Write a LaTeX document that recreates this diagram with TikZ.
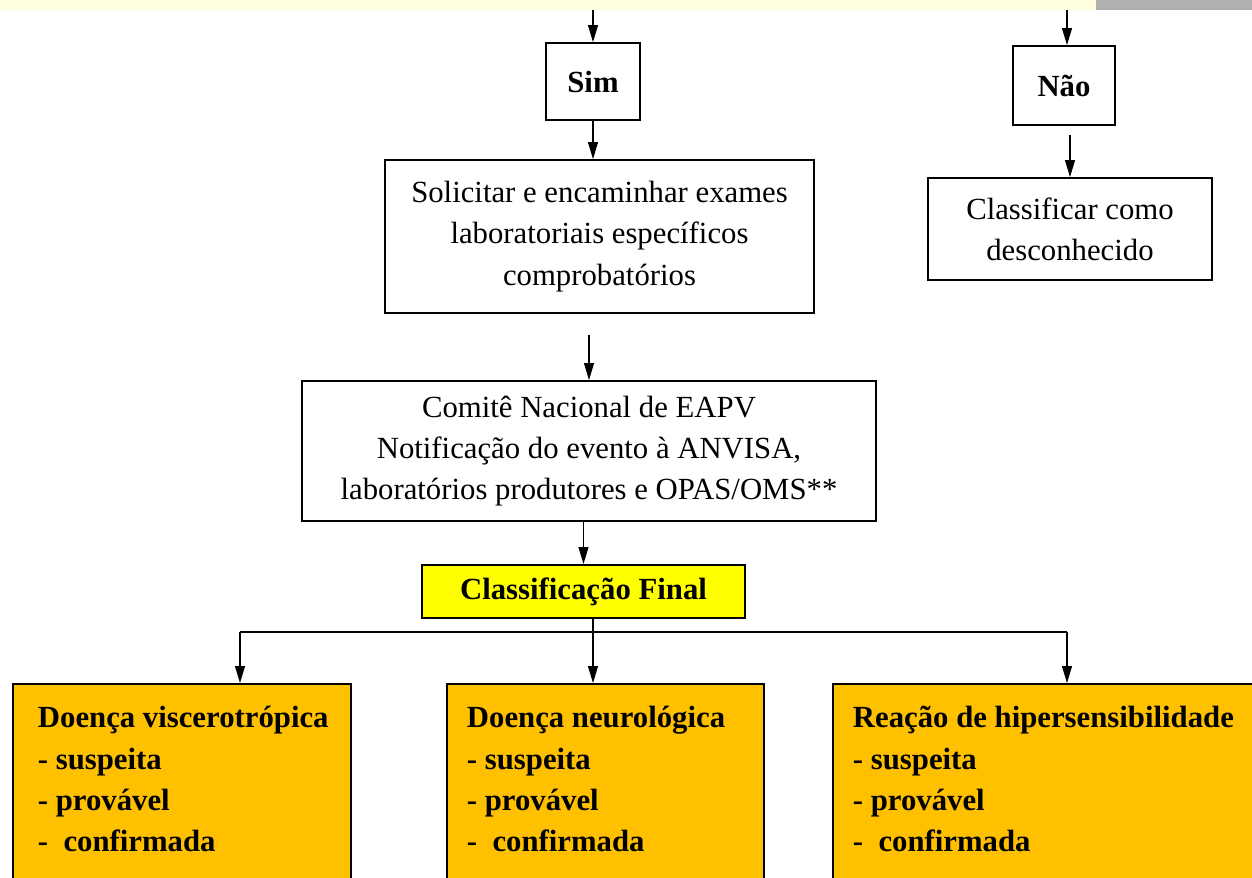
\documentclass[tikz,border=0pt]{standalone}
\usepackage{fontspec}
\setmainfont{Liberation Serif}
\usetikzlibrary{arrows.meta}
\definecolor{stripyel}{HTML}{FFFFE0}
\definecolor{stripgray}{HTML}{B0B0B0}
\definecolor{finyel}{HTML}{FFFF00}
\definecolor{classor}{HTML}{FFC000}
\newcommand{\fs}{\fontsize{17.5}{23.5}\selectfont}

\begin{document}
\begin{tikzpicture}[x=0.02cm,y=-0.02cm,
   box/.style={draw,line width=1.1pt,align=center,font=\fs,inner sep=0pt},
   obox/.style={draw,line width=1.1pt,fill=classor,font=\fs\bfseries,
                anchor=north west,inner xsep=0.4cm,inner ysep=0.45cm},
   arr/.style={-{Triangle[length=0.34cm,width=0.2cm]},line width=0.6pt}]
   \useasboundingbox (0,0) rectangle (1252,877);
   \fill[stripyel] (0,0) rectangle (1096,10);
   \fill[stripgray] (1096,0) rectangle (1252,10);
   \coordinate (topl) at (593,10);
   \coordinate (topr) at (1067,10);
   \node[box,minimum width=1.88cm,minimum height=1.54cm,font=\fs\bfseries] (sim) at (593,81.5) {Sim};
   \node[box,minimum width=2.04cm,minimum height=1.58cm,font=\fs\bfseries] (nao) at (1064,85.5) {Não};
   \node[box,minimum width=5.68cm,minimum height=2.04cm] (desc) at (1070,229)
      {Classificar como\\desconhecido};
   \node[box,minimum width=8.58cm,minimum height=3.06cm] (sol) at (599.5,236.5)
      {Solicitar e encaminhar exames\\laboratoriais específicos\\comprobatórios};
   \node[box,minimum width=11.48cm,minimum height=2.8cm] (com) at (589,451)
      {Comitê Nacional de EAPV\\Notificação do evento à ANVISA,\\laboratórios produtores e OPAS/OMS**};
   \node[box,fill=finyel,minimum width=6.46cm,minimum height=1.06cm,font=\fs\bfseries] (fin) at (583.5,591.5)
      {Classificação Final};
   \node[obox,inner xsep=0.25cm] (visc) at (12,683)
      {\parbox[t][4.3cm][t]{6.26cm}{\raggedright\leftskip=0.25cm Doença viscerotrópica\\- suspeita\\- provável\\-\ \ confirmada}};
   \node[obox] (neur) at (446,683)
      {\parbox[t][4.3cm][t]{5.54cm}{\raggedright Doença neurológica\\- suspeita\\- provável\\-\ \ confirmada}};
   \node[obox] (hip) at (832,683)
      {\parbox[t][4.3cm][t]{8.4cm}{\raggedright Reação de hipersensibilidade\\- suspeita\\- provável\\-\ \ confirmada}};
   \coordinate (bl) at (240,632);
   \coordinate (bm) at (593,632);
   \coordinate (br) at (1067,632);
   \draw[arr] (topl) -- (topl |- sim.north);
   \draw[arr] (topr) -- (topr |- nao.north);
   \draw[arr] (sim.south) -- (sim.south |- sol.north);
   \draw[arr,shorten <=5] (nao.south -| desc.north) -- (desc.north);
   \draw[arr,shorten <=12] (sol.south -| com.north) -- (com.north);
   \draw[arr] (com.south -| fin.north) -- (fin.north);
   \draw[line width=0.6pt] (fin.south -| bm) -- (bm);
   \draw[line width=1.1pt] (bl) -- (br);
   \draw[arr] (bl) -- (bl |- visc.north);
   \draw[arr] (bm) -- (bm |- neur.north);
   \draw[arr] (br) -- (br |- hip.north);
\end{tikzpicture}
\end{document}
